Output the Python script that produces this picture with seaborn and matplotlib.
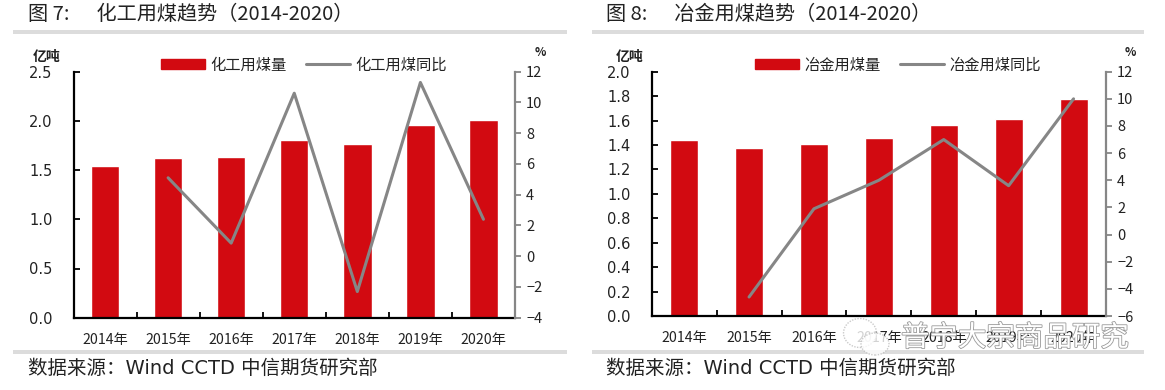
import numpy as np
import pandas as pd
import seaborn as sns
import matplotlib.pyplot as plt
from matplotlib.lines import Line2D
from matplotlib.patches import Patch, Rectangle, Ellipse
import matplotlib.patheffects as pe

years = ['2014年', '2015年', '2016年', '2017年', '2018年', '2019年', '2020年']

chem_use = [1.54, 1.62, 1.63, 1.805, 1.765, 1.955, 2.005]
chem_yoy = [np.nan, 5.1, 0.85, 10.6, -2.3, 11.3, 2.4]
chem_ticks = [0.0, 0.5, 1.0, 1.5, 2.0, 2.5]
chem_yoy_ticks = [-4, -2, 0, 2, 4, 6, 8, 10, 12]

met_use = [1.44, 1.375, 1.405, 1.455, 1.56, 1.61, 1.775]
met_yoy = [np.nan, -4.6, 1.9, 4.0, 7.0, 3.6, 10.0]
met_ticks = [0.0, 0.2, 0.4, 0.6, 0.8, 1.0, 1.2, 1.4, 1.6, 1.8, 2.0]
met_yoy_ticks = [-6, -4, -2, 0, 2, 4, 6, 8, 10, 12]

RED = '#D20A11'
GREY = '#868686'
W, H = 1165, 390

sns.set_theme(style='white')
plt.rcParams['font.family'] = ['Noto Sans CJK SC', 'DejaVu Sans']
plt.rcParams['axes.unicode_minus'] = True
WIDE = ['DejaVu Sans', 'Noto Sans CJK SC']

fig = plt.figure(figsize=(W / 100, H / 100), dpi=100)


def px_axes(x0, y0, x1, y1):
    return fig.add_axes([x0 / W, 1 - y1 / H, (x1 - x0) / W, (y1 - y0) / H])


def rule(x0, x1, y):
    fig.add_artist(Rectangle((x0 / W, 1 - (y + 2) / H), (x1 - x0) / W, 4 / H,
                             transform=fig.transFigure, color='#DCDCDC', lw=0))


def panel(box, use, yoy, ticks, yoy_ticks, use_name, yoy_name, bar_width, title, title_x, rule_x, legend_x, unit_x, pct_x):
    ax = px_axes(*box)
    df = pd.DataFrame({'year': years, 'use': use, 'yoy': yoy})
    sns.barplot(data=df, x='year', y='use', color=RED, width=bar_width, saturation=1, ax=ax)
    ax.set_xlim(-0.5, len(years) - 0.5)
    ax.set_ylim(ticks[0], ticks[-1])
    ax.set_yticks(ticks)
    ax.set_yticklabels([f'{t:.1f}' for t in ticks], fontsize=10.5, color='#222222', family=WIDE)
    ax.set_xlabel('')
    ax.set_ylabel('')
    ax.tick_params(axis='x', which='major', length=0, pad=11, labelsize=10.2, labelcolor='#222222')
    ax.set_xticks(np.arange(-0.5, len(years)), minor=True)
    ax.tick_params(axis='x', which='minor', bottom=True, direction='in', length=4.5, width=1.3, color='black')
    ax.tick_params(axis='y', left=True, direction='in', length=4, width=1.3, color='black', pad=15)
    ax.spines['top'].set_visible(False)
    ax.spines['right'].set_visible(False)
    ax.spines['left'].set_linewidth(1.6)
    ax.spines['bottom'].set_linewidth(1.6)
    ax.spines['left'].set_color('black')
    ax.spines['bottom'].set_color('black')

    ax2 = ax.twinx()
    sns.lineplot(x=np.arange(len(years)), y=df['yoy'], color=GREY, lw=2.2, ax=ax2, legend=False)
    ax2.set_ylim(yoy_ticks[0], yoy_ticks[-1])
    ax2.set_yticks(yoy_ticks)
    ax2.set_yticklabels([str(t).replace('-', '−') for t in yoy_ticks], fontsize=10.5, color='#222222')
    ax2.set_ylabel('')
    ax2.tick_params(axis='y', right=True, direction='out', length=4, width=1.3, color=GREY, pad=4)
    for s in ['top', 'left', 'bottom']:
        ax2.spines[s].set_visible(False)
    ax2.spines['right'].set_linewidth(1.6)
    ax2.spines['right'].set_color(GREY)

    handles = [Patch(color=RED, label=use_name), Line2D([], [], color=GREY, lw=2.2, label=yoy_name)]
    fig.legend(handles=handles, loc='center', bbox_to_anchor=(legend_x / W, 1 - 65 / H), ncol=2, frameon=False,
               fontsize=11, handlelength=2.9, handleheight=0.55, handletextpad=0.35, columnspacing=1.25,
               borderpad=0, labelcolor='#222222')

    fig.text(unit_x / W, 1 - 57 / H, '亿吨', fontsize=10, fontweight='bold', color='#222222', ha='left', va='center')
    fig.text(pct_x / W, 1 - 53 / H, '%', fontsize=8.5, fontweight='bold', color='#222222', ha='center', va='center')
    fig.text(title_x / W, 1 - 14 / H, title, fontsize=14.5, color='#222222', ha='left', va='center')
    fig.text(title_x / W, 1 - 368 / H, '数据来源：Wind CCTD 中信期货研究部', fontsize=14, color='#222222', ha='left', va='center', family=WIDE)
    rule(rule_x[0], rule_x[1], 32)
    rule(rule_x[0], rule_x[1], 352)


panel((73.5, 71.7, 515, 317.7), chem_use, chem_yoy, chem_ticks, chem_yoy_ticks, '化工用煤量', '化工用煤同比', 0.45,
      '图 7:      化工用煤趋势（2014-2020）', 28, (13, 567), 304, 33, 540)
panel((651.7, 71.7, 1106, 316), met_use, met_yoy, met_ticks, met_yoy_ticks, '冶金用煤量', '冶金用煤同比', 0.43,
      '图 8:      冶金用煤趋势（2014-2020）', 606, (592, 1144), 898, 616, 1130)

# 公众号水印
fig.text(1015 / W, 1 - 338 / H, '普宁大宗商品研究', fontsize=20.5, color='white', ha='center', va='center',
         path_effects=[pe.withStroke(linewidth=1.2, foreground='#9A9A9A')])
for cx, cy, w, h in [(860, 333, 33, 29), (875, 344, 28, 22)]:
    fig.add_artist(Ellipse((cx / W, 1 - cy / H), w / W, h / H, transform=fig.transFigure,
                           facecolor='white', edgecolor='#BDBDBD', lw=1, ls=(0, (1, 1)), alpha=0.8))

fig.savefig('out.png', dpi=100)
